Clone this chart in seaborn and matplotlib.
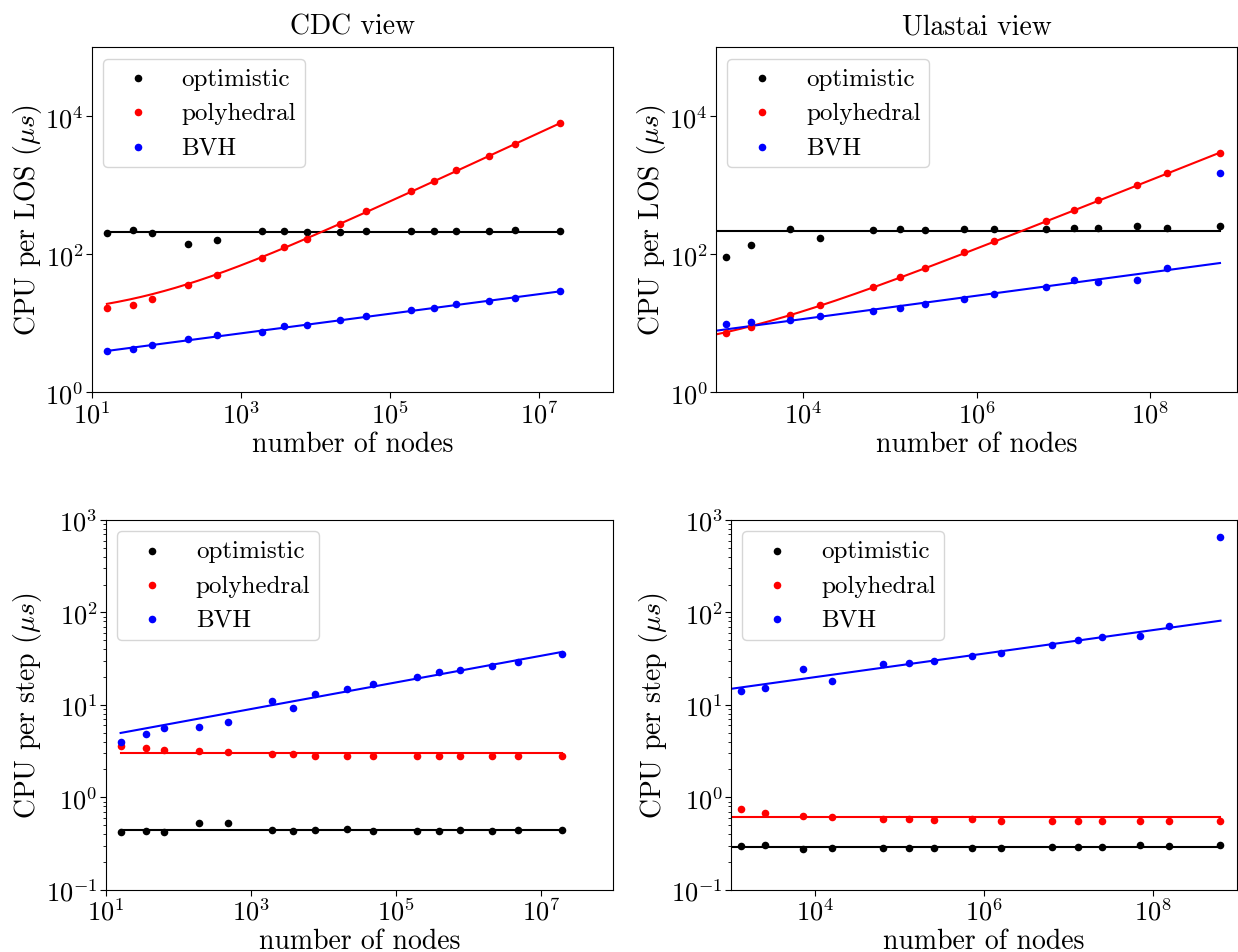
import numpy as np
import pandas as pd
import matplotlib
matplotlib.use("Agg")
import matplotlib.pyplot as plt
from matplotlib.ticker import NullLocator, LogLocator
import seaborn as sns

# ---------------- data ----------------
x_cdc = [16, 36, 64, 196, 480, 1930, 3850, 7750, 21200, 48500,
         1.95e5, 3.95e5, 7.7e5, 2.15e6, 4.8e6, 1.95e7]
x_ulastai = [1309, 2560, 7110, 15900, 63800, 1.30e5, 2.54e5, 7.14e5,
             1.58e6, 6.35e6, 1.31e7, 2.53e7, 7.1e7, 1.58e8, 6.37e8]

# CPU per LOS, CDC view
los_cdc_opt = [205, 222, 205, 139, 159, 217, 217, 210, 210, 217,
               217, 217, 217, 217, 222, 217]
los_cdc_poly = [16.4, 18.7, 22.6, 36.0, 50.7, 87.5, 129, 166, 277, 418,
                822, 1158, 1652, 2700, 3963, 8090]
los_cdc_bvh = [3.97, 4.28, 4.78, 5.83, 6.75, 7.46, 9.0, 9.42, 11.1, 12.7,
               15.7, 16.9, 19.1, 20.9, 23.4, 29.2]

# CPU per LOS, Ulastai view
los_ul_opt = [91.4, 135, 234, 170, 227, 234, 227, 234, 234, 234,
              242, 242, 254, 242, 254]
los_ul_poly = [7.29, 8.81, 13.0, 18.5, 33.3, 47.0, 64.0, 108, 156, 306,
               437, 615, 1002, 1531, 2978]
los_ul_bvh = [9.73, 10.6, 11.1, 12.7, 15.2, 16.6, 18.9, 22.6, 26.4, 33.4,
              42.1, 39.8, 43.0, 63.4, 1531]

# CPU per step, CDC view
step_cdc_opt = [0.421, 0.428, 0.421, 0.531, 0.523, 0.442, 0.435, 0.442, 0.454,
                0.435, 0.435, 0.435, 0.442, 0.435, 0.442, 0.442]
step_cdc_poly = [3.62, 3.40, 3.25, 3.20, 3.07, 2.97, 2.94, 2.82, 2.82, 2.82,
                 2.80, 2.78, 2.82, 2.78, 2.78, 2.78]
step_cdc_bvh = [3.94, 4.89, 5.63, 5.73, 6.55, 10.9, 9.27, 13.2, 15.0, 16.8,
                20.0, 22.4, 24.1, 26.2, 29.0, 35.1]

# CPU per step, Ulastai view
step_ul_opt = [0.294, 0.302, 0.277, 0.282, 0.282, 0.282, 0.282, 0.282, 0.282,
               0.290, 0.290, 0.290, 0.306, 0.294, 0.306]
step_ul_poly = [0.752, 0.681, 0.627, 0.607, 0.582, 0.582, 0.572, 0.582, 0.557,
                0.557, 0.557, 0.557, 0.557, 0.557, 0.557]
step_ul_bvh = [14.1, 15.2, 24.5, 18.3, 27.6, 28.7, 29.5, 33.7, 36.6, 44.3,
               50.6, 54.1, 55.9, 71.2, 650]

# fitted model parameters
fit_const = {"los_cdc": 208, "los_ul": 215, "step_cdc_opt": 0.446,
             "step_cdc_poly": 3.02, "step_ul_opt": 0.292, "step_ul_poly": 0.612}
fit_sqrt_cdc = (11.9, 1.806)   # a + b*sqrt(x)
fit_sqrt_ul = (3.17, 0.1179)
fit_pow = {"los_cdc": (2.68, 0.142), "los_ul": (2.43, 0.169),
           "step_cdc": (3.33, 0.144), "step_ul": (6.2, 0.127)}  # c * x**p
fit_range_cdc = (x_cdc[0], x_cdc[-1])
fit_range_ul = (1e3, x_ulastai[-1])

labels = ["optimistic", "polyhedral", "BVH"]
colors = ["black", "red", "blue"]

# ---------------- style ----------------
plt.rcParams.update({
    "font.family": "serif",
    "font.serif": ["cmr10", "DejaVu Serif"],
    "mathtext.fontset": "cm",
    "axes.formatter.use_mathtext": True,
    "axes.unicode_minus": False,
})

fig = plt.figure(figsize=(12.38, 9.53), dpi=100)
W, H = 1238, 953


def add_ax(l, r, t, b):
    return fig.add_axes([l / W, 1 - b / H, (r - l) / W, (b - t) / H])


ax_tl = add_ax(91.7, 613.3, 48.3, 393.3)
ax_tr = add_ax(716, 1237, 48.3, 393.3)
ax_bl = add_ax(105.8, 613.3, 521, 890.7)
ax_br = add_ax(731, 1237, 521, 890.7)


def scatter(ax, x, ys):
    for y, lab, c in zip(ys, labels, colors):
        sns.scatterplot(x=x, y=y, ax=ax, color=c, s=30, linewidth=0,
                        label=lab, zorder=3)


def line(ax, xs, ys, c):
    sns.lineplot(x=xs, y=ys, ax=ax, color=c, lw=1.5, legend=False,
                 sort=False, zorder=2)


def finish(ax, xlim, ylim, xticks, yticks, ylabel, minor_y):
    ax.set_xscale("log")
    ax.set_yscale("log")
    ax.set_xlim(*xlim)
    ax.set_ylim(*ylim)
    ax.set_xticks(xticks)
    ax.set_yticks(yticks)
    ax.xaxis.set_minor_locator(NullLocator())
    if minor_y:
        ax.yaxis.set_minor_locator(LogLocator(base=10, subs=np.arange(2, 10)))
    else:
        ax.yaxis.set_minor_locator(NullLocator())
    ax.tick_params(axis="both", which="major", labelsize=19, length=4, pad=2)
    ax.tick_params(axis="both", which="minor", length=2)
    ax.set_xlabel("number of nodes", fontsize=20, labelpad=2)
    ax.set_ylabel(ylabel, fontsize=20, labelpad=1)
    ax.legend(loc="upper left", fontsize=18, framealpha=0.8,
              labelspacing=0.47, handlelength=2.1, handletextpad=0.7,
              borderpad=0.35, borderaxespad=0.45)


# --- top left: CDC view, LOS ---
scatter(ax_tl, x_cdc, [los_cdc_opt, los_cdc_poly, los_cdc_bvh])
xf = np.geomspace(*fit_range_cdc, 200)
line(ax_tl, list(fit_range_cdc), [fit_const["los_cdc"]] * 2, "black")
line(ax_tl, xf, fit_sqrt_cdc[0] + fit_sqrt_cdc[1] * np.sqrt(xf), "red")
line(ax_tl, xf, fit_pow["los_cdc"][0] * xf ** fit_pow["los_cdc"][1], "blue")
finish(ax_tl, (1e1, 1e8), (1, 1e5), [1e1, 1e3, 1e5, 1e7], [1, 1e2, 1e4],
       r"CPU per LOS ($\mu s$)", False)
ax_tl.set_title("CDC view", fontsize=20, pad=10)

# --- top right: Ulastai view, LOS ---
scatter(ax_tr, x_ulastai, [los_ul_opt, los_ul_poly, los_ul_bvh])
xu = np.geomspace(*fit_range_ul, 200)
line(ax_tr, list(fit_range_ul), [fit_const["los_ul"]] * 2, "black")
line(ax_tr, xu, fit_sqrt_ul[0] + fit_sqrt_ul[1] * np.sqrt(xu), "red")
line(ax_tr, xu, fit_pow["los_ul"][0] * xu ** fit_pow["los_ul"][1], "blue")
finish(ax_tr, (1e3, 1e9), (1, 1e5), [1e4, 1e6, 1e8], [1, 1e2, 1e4],
       r"CPU per LOS ($\mu s$)", False)
ax_tr.set_title("Ulastai view", fontsize=20, pad=10)

# --- bottom left: CDC view, step ---
scatter(ax_bl, x_cdc, [step_cdc_opt, step_cdc_poly, step_cdc_bvh])
line(ax_bl, list(fit_range_cdc), [fit_const["step_cdc_opt"]] * 2, "black")
line(ax_bl, list(fit_range_cdc), [fit_const["step_cdc_poly"]] * 2, "red")
line(ax_bl, xf, fit_pow["step_cdc"][0] * xf ** fit_pow["step_cdc"][1], "blue")
finish(ax_bl, (1e1, 1e8), (0.1, 1e3), [1e1, 1e3, 1e5, 1e7],
       [0.1, 1, 10, 100, 1000], r"CPU per step ($\mu s$)", True)

# --- bottom right: Ulastai view, step ---
scatter(ax_br, x_ulastai, [step_ul_opt, step_ul_poly, step_ul_bvh])
line(ax_br, list(fit_range_ul), [fit_const["step_ul_opt"]] * 2, "black")
line(ax_br, list(fit_range_ul), [fit_const["step_ul_poly"]] * 2, "red")
line(ax_br, xu, fit_pow["step_ul"][0] * xu ** fit_pow["step_ul"][1], "blue")
finish(ax_br, (1e3, 1e9), (0.1, 1e3), [1e4, 1e6, 1e8],
       [0.1, 1, 10, 100, 1000], r"CPU per step ($\mu s$)", True)

fig.savefig("out.png", dpi=100)
